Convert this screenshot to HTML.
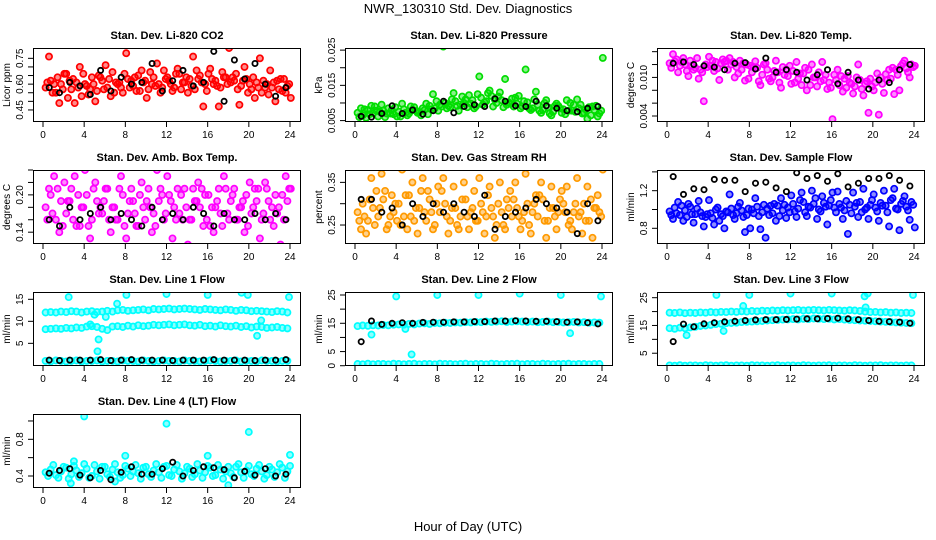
<!DOCTYPE html>
<html><head><meta charset="utf-8"><style>
body{margin:0;background:#fff;width:936px;height:540px;overflow:hidden}
svg{display:block;font-family:"Liberation Sans",sans-serif}
</style></head><body>
<svg id="chart" width="936" height="540">
<text x="468" y="13" text-anchor="middle" font-size="13">NWR_130310  Std. Dev. Diagnostics</text>
<text x="468" y="531" text-anchor="middle" font-size="13">Hour of Day (UTC)</text>
</svg>
<script>
const halfHours=[];for(let i=0;i<48;i++)halfHours.push(i*0.5+0.25);
const hourly=[];for(let i=0;i<24;i++)hourly.push(i+0.6);
const xTicks=[0,4,8,12,16,20,24];

const co2A=[0.58,0.62,0.55,0.60,0.66,0.57,0.61,0.53,0.59,0.64,0.56,0.62,0.58,0.67,0.60,0.55,0.63,0.59,0.65,0.61,0.57,0.64,0.60,0.68,0.62,0.58,0.66,0.61,0.63,0.57,0.65,0.60,0.69,0.62,0.58,0.64,0.61,0.66,0.59,0.63,0.57,0.61,0.55,0.60,0.58,0.62,0.56,0.59];
const co2B=[0.61,0.55,0.64,0.57,0.52,0.63,0.58,0.66,0.54,0.60,0.65,0.57,0.63,0.55,0.61,0.66,0.58,0.64,0.56,0.62,0.67,0.59,0.55,0.63,0.60,0.66,0.57,0.64,0.59,0.68,0.61,0.56,0.63,0.59,0.67,0.60,0.64,0.57,0.62,0.55,0.64,0.58,0.62,0.54,0.61,0.57,0.63,0.60];
const co2C=[0.76,0.60,0.49,0.66,0.62,0.49,0.70,0.60,0.57,0.50,0.64,0.71,0.53,0.61,0.58,0.78,0.62,0.56,0.68,0.52,0.60,0.72,0.58,0.64,0.56,0.69,0.61,0.55,0.76,0.63,0.47,0.66,0.60,0.47,0.64,0.81,0.62,0.48,0.70,0.60,0.52,0.75,0.58,0.68,0.50,0.63,0.55,0.52];
const co2K=[0.58,0.55,0.61,0.59,0.54,0.68,0.56,0.64,0.60,0.61,0.72,0.56,0.62,0.68,0.59,0.61,0.79,0.50,0.74,0.63,0.72,0.60,0.53,0.58];

const prA=[.0072,.0065,.0080,.0070,.0062,.0078,.0085,.0068,.0075,.0082,.0070,.0088,.0074,.0080,.0092,.0085,.0095,.0100,.0088,.0105,.0096,.0110,.0098,.0090,.0115,.0105,.0120,.0100,.0108,.0095,.0112,.0098,.0090,.0102,.0085,.0095,.0080,.0088,.0075,.0092,.0082,.0078,.0095,.0085,.0072,.0088,.0080,.0070];
const prB=[.0060,.0082,.0068,.0090,.0075,.0060,.0070,.0088,.0062,.0072,.0090,.0078,.0065,.0098,.0082,.0105,.0090,.0085,.0110,.0092,.0118,.0088,.0108,.0125,.0095,.0128,.0090,.0118,.0088,.0102,.0090,.0120,.0105,.0085,.0110,.0078,.0100,.0070,.0092,.0085,.0068,.0100,.0075,.0095,.0082,.0065,.0092,.0078];
const prC=[.0085,.0058,.0092,.0078,.0095,.0070,.0080,.0062,.0098,.0065,.0080,.0072,.0085,.0068,.0125,.0078,.0260,.0092,.0128,.0078,.0100,.0122,.0085,.0175,.0102,.0135,.0110,.0130,.0168,.0098,.0115,.0085,.0195,.0080,.0132,.0072,.0108,.0065,.0098,.0072,.0108,.0078,.0110,.0070,.0055,.0090,.0062,.0228];
const prK=[.0062,.0060,.0070,.0092,.0070,.0080,.0068,.0078,.0105,.0072,.0090,.0095,.0090,.0112,.0105,.0092,.0090,.0105,.0092,.0085,.0078,.0075,.0085,.0090];

const tpA=[.0122,.0125,.0118,.0120,.0126,.0115,.0112,.0120,.0118,.0124,.0122,.0126,.0120,.0116,.0112,.0120,.0108,.0115,.0104,.0112,.0100,.0108,.0116,.0102,.0110,.0098,.0106,.0112,.0100,.0108,.0096,.0092,.0104,.0088,.0098,.0092,.0086,.0096,.0090,.0098,.0092,.0100,.0105,.0098,.0112,.0118,.0114,.0120];
const tpB=[.0115,.0128,.0124,.0110,.0118,.0130,.0108,.0116,.0126,.0114,.0128,.0112,.0124,.0106,.0122,.0098,.0116,.0094,.0120,.0098,.0110,.0092,.0104,.0118,.0092,.0106,.0115,.0088,.0100,.0094,.0104,.0084,.0096,.0102,.0084,.0090,.0100,.0082,.0094,.0086,.0106,.0090,.0096,.0115,.0104,.0122,.0108,.0116];
const tpC=[.0136,.0108,.0130,.0102,.0112,.0098,.0063,.0132,.0110,.0096,.0124,.0130,.0100,.0126,.0095,.0118,.0125,.0088,.0122,.0094,.0126,.0084,.0112,.0090,.0124,.0088,.0080,.0120,.0086,.0124,.0082,.0035,.0112,.0078,.0102,.0075,.0120,.0072,.0045,.0080,.0042,.0076,.0112,.0074,.0080,.0126,.0100,.0118];
const tpK=[.0122,.0124,.0120,.0118,.0116,.0112,.0122,.0123,.0113,.0130,.0108,.0112,.0108,.0096,.0104,.0112,.0090,.0108,.0096,.0082,.0096,.0092,.0112,.0120];

const abA=[.18,.20,.16,.19,.17,.21,.15,.18,.20,.16,.19,.17,.21,.18,.16,.20,.17,.19,.15,.18,.21,.17,.19,.16,.20,.18,.17,.21,.16,.19,.18,.20,.15,.18,.17,.21,.19,.16,.18,.20,.17,.19,.16,.21,.18,.17,.20,.19];
const abB=[.16,.17,.21,.15,.19,.16,.20,.18,.15,.21,.17,.19,.16,.18,.21,.15,.19,.17,.20,.16,.18,.15,.21,.17,.19,.16,.20,.18,.16,.19,.21,.16,.18,.19,.15,.17,.20,.16,.19,.15,.18,.21,.17,.19,.15,.18,.16,.21];
const abC=[.21,.23,.14,.22,.19,.23,.15,.24,.13,.22,.18,.21,.14,.16,.23,.13,.21,.15,.22,.19,.14,.24,.20,.23,.13,.21,.16,.12,.21,.22,.15,.20,.14,.21,.23,.16,.21,.18,.14,.22,.21,.13,.22,.16,.20,.12,.23,.21];
const abK=[.16,.15,.18,.16,.17,.18,.16,.17,.16,.15,.18,.16,.17,.16,.18,.17,.15,.17,.16,.16,.17,.16,.17,.16];

const rhA=[.28,.30,.26,.29,.27,.31,.25,.28,.30,.27,.32,.26,.29,.28,.31,.25,.28,.30,.26,.29,.27,.31,.28,.26,.30,.27,.29,.25,.28,.31,.27,.29,.26,.30,.28,.27,.31,.26,.29,.28,.30,.25,.28,.27,.30,.26,.29,.28];
const rhB=[.26,.27,.31,.25,.29,.33,.27,.30,.25,.32,.27,.29,.33,.26,.28,.30,.33,.27,.29,.25,.31,.27,.29,.26,.28,.32,.27,.30,.25,.29,.31,.27,.28,.25,.30,.32,.26,.29,.27,.31,.28,.26,.30,.28,.26,.31,.29,.27];
const rhC=[.24,.23,.36,.33,.37,.24,.32,.26,.38,.24,.35,.23,.36,.33,.24,.34,.36,.23,.34,.24,.35,.24,.33,.36,.23,.34,.22,.35,.24,.33,.35,.24,.37,.23,.32,.35,.22,.34,.24,.33,.34,.24,.36,.23,.34,.22,.32,.38];
const rhK=[.31,.31,.28,.29,.25,.30,.27,.30,.28,.30,.28,.27,.32,.24,.27,.28,.29,.31,.30,.29,.28,.23,.30,.26];

const sfA=[.98,1.02,.94,.99,1.03,.95,.97,.92,.96,1.00,.95,.98,1.01,.96,.99,.94,1.00,1.03,.97,1.01,.96,1.04,.99,1.02,1.06,1.01,1.08,1.03,1.06,1.00,1.07,1.04,1.02,1.06,.99,1.05,1.03,1.08,1.00,1.05,1.02,1.07,1.04,1.10,1.01,1.06,1.03,1.08];
const sfB=[.94,.96,1.04,.92,.95,1.01,.93,.95,.91,1.02,.93,.97,.94,1.03,.92,1.01,.96,.93,1.05,.94,1.06,.93,1.05,.97,.98,1.10,.97,1.02,1.12,.98,1.03,1.10,.97,1.02,1.09,.96,1.07,.97,1.02,1.10,.98,1.04,.97,1.12,1.00,1.09,.99,1.05];
const sfC=[.90,1.08,.88,1.06,.86,1.09,.82,1.10,.84,.88,.80,1.16,.90,1.07,.76,.80,1.12,.79,.70,1.04,.88,1.12,.91,1.15,.92,1.18,.93,1.20,.90,1.14,.84,1.18,1.19,.90,.74,1.18,.92,1.22,.90,1.16,.88,1.20,.82,1.22,.78,1.14,.89,.81];
const sfK=[1.35,1.16,1.22,1.21,1.32,1.31,1.31,1.19,1.28,1.29,1.23,1.19,1.39,1.33,1.36,1.30,1.38,1.24,1.28,1.33,1.33,1.36,1.31,1.25];

const l1Up=[12.0,12.1,12.0,12.2,12.1,12.3,12.2,12.0,12.2,12.3,12.1,12.2,12.4,12.2,12.5,12.6,12.4,12.5,12.6,12.7,12.5,12.8,12.7,12.8,12.9,12.7,12.8,12.9,12.8,12.7,12.6,12.8,12.7,12.6,12.5,12.7,12.6,12.4,12.6,12.5,12.3,12.4,12.3,12.2,12.1,12.3,12.2,12.0];
const l1Mid=[8.2,8.3,8.4,8.3,8.5,8.4,8.6,8.5,8.8,8.9,8.7,8.3,8.0,8.8,8.9,8.7,9.0,8.8,9.1,8.9,9.0,9.2,9.1,9.2,9.3,9.1,9.2,9.3,9.1,9.0,9.2,8.9,9.0,8.8,9.1,8.9,8.8,9.0,8.7,8.9,8.6,8.8,8.7,8.5,8.6,8.7,8.5,8.4];
const l1Low=[1.0,0.9,1.1,1.0,0.9,1.0,1.1,0.9,1.0,1.0,1.1,0.9,1.0,1.0,0.9,1.1,1.0,1.0,0.9,1.1,1.0,0.9,1.0,1.1,1.0,1.0,0.9,1.1,1.0,1.0,0.9,1.0,1.1,1.0,0.9,1.0,1.0,1.1,0.9,1.0,1.0,0.9,1.1,1.0,1.0,0.9,1.0,1.0];
const l1K=[1.2,1.1,1.2,1.2,1.2,1.3,1.1,1.2,1.3,1.2,1.2,1.2,1.1,1.2,1.2,1.2,1.3,1.2,1.2,1.2,1.1,1.2,1.2,1.3];
const l1OutH=[2.5,5.4,5.3,7.2,8.1,12.0,16.0,19.3,19.9,20.8,21.2,23.9,5.0,6.1,4.6];
const l1OutV=[15.5,5.9,3.2,14.0,16.0,16.2,16.0,16.5,16.0,6.7,10.2,15.5,11.5,11.0,9.3];

const l2Main=[14.0,14.2,14.1,14.3,14.2,14.4,14.3,14.5,14.6,14.5,14.8,14.6,14.9,15.0,14.8,15.1,15.0,15.2,15.1,15.3,15.2,15.4,15.3,15.5,15.4,15.6,15.5,15.6,15.7,15.5,15.6,15.7,15.6,15.5,15.6,15.4,15.5,15.6,15.4,15.5,15.3,15.4,15.5,15.3,15.4,15.2,15.3,15.2];
const l2Low=[0.6,0.5,0.7,0.5,0.6,0.6,0.5,0.7,0.6,0.5,0.6,0.7,0.5,0.6,0.6,0.5,0.7,0.6,0.6,0.5,0.6,0.7,0.5,0.6,0.6,0.5,0.7,0.6,0.5,0.6,0.6,0.7,0.5,0.6,0.6,0.5,0.7,0.6,0.5,0.6,0.6,0.7,0.5,0.6,0.6,0.5,0.6,0.6];
const l2K=[8.5,15.8,14.6,15.0,15.2,15.0,15.3,15.4,15.4,15.5,15.5,15.6,15.6,15.8,15.8,15.9,15.8,15.7,15.7,15.6,15.4,15.5,15.2,14.8];
const l2OutH=[1.6,4.0,4.9,5.5,8.0,12.0,16.0,20.0,20.9,23.9];
const l2OutV=[11.0,24.5,13.0,4.0,25.0,25.0,25.5,25.0,11.5,24.5];

const l3Up=[19.6,19.5,19.7,19.4,19.6,19.5,19.7,19.6,19.8,19.7,19.9,19.8,20.0,19.9,20.1,20.0,20.2,20.1,20.3,20.2,20.4,20.3,20.5,20.4,20.5,20.6,20.4,20.5,20.6,20.5,20.4,20.6,20.5,20.4,20.3,20.5,20.4,20.2,20.0,19.8,19.9,19.7,19.8,19.6,19.7,19.5,19.6,19.5];
const l3Mid=[14.0,13.8,14.2,14.0,14.3,14.5,14.8,15.0,15.2,15.5,15.6,15.8,15.9,16.0,16.2,16.3,16.4,16.5,16.6,16.8,16.9,17.0,17.1,17.2,17.3,17.2,17.4,17.3,17.5,17.4,17.3,17.4,17.2,17.3,17.1,17.0,16.9,16.8,16.7,16.6,16.5,16.4,16.3,16.2,16.1,16.0,15.9,15.8];
const l3Low=[0.6,0.5,0.7,0.5,0.6,0.6,0.5,0.7,0.6,0.5,0.6,0.7,0.5,0.6,0.6,0.5,0.7,0.6,0.6,0.5,0.6,0.7,0.5,0.6,0.6,0.5,0.7,0.6,0.5,0.6,0.6,0.7,0.5,0.6,0.6,0.5,0.7,0.6,0.5,0.6,0.6,0.7,0.5,0.6,0.6,0.5,0.6,0.6];
const l3K=[9.2,15.5,14.5,15.6,16.0,16.3,16.5,16.8,17.0,17.1,17.1,17.2,17.3,17.4,17.4,17.5,17.6,17.4,17.1,16.8,16.5,16.4,16.2,15.8];
const l3OutH=[4.8,8.0,12.0,16.0,19.2,19.5,23.9,1.9,5.5,7.4,19.3];
const l3OutV=[26.0,26.0,26.5,26.5,25.5,26.5,26.0,11.5,13.0,22.0,21.5];

const l4A=[.44,.47,.41,.45,.49,.42,.46,.43,.48,.40,.45,.50,.42,.47,.44,.41,.48,.45,.43,.49,.42,.46,.44,.50,.41,.47,.45,.43,.48,.42,.46,.44,.49,.41,.47,.45,.43,.50,.44,.46,.42,.48,.45,.41,.47,.44,.49,.45];
const l4B=[.40,.52,.38,.50,.37,.51,.39,.53,.38,.52,.37,.50,.39,.53,.38,.51,.40,.52,.37,.50,.39,.53,.38,.51,.40,.52,.37,.50,.39,.53,.38,.51,.40,.52,.37,.50,.39,.53,.38,.51,.40,.52,.37,.50,.39,.53,.38,.51];
const l4K=[.43,.46,.48,.41,.38,.46,.36,.44,.50,.42,.42,.48,.55,.40,.46,.50,.49,.47,.38,.45,.41,.48,.40,.42];
const l4OutH=[4.0,12.0,20.0,8.0,16.0,24.0,2.7,18.0,3.0,7.0];
const l4OutV=[1.05,0.97,0.88,0.62,0.62,0.63,0.32,0.30,0.56,0.34];

const RED="#ff0000",GRN="#00dd00",MAG="#ff00ff",ORG="#ff9a00",BLU="#0000ff",CYN="#00ffff",BLK="#000000";
const panels=[
 {name:"co2",title:"Stan. Dev. Li-820 CO2",ylab:"Licor ppm",col:0,row:0,ylim:[0.38,0.81],ticks:[0.45,0.5,0.55,0.6,0.65,0.7,0.75],labels:[[0.45,"0.45"],[0.6,"0.60"],[0.75,"0.75"]],
  series:[[halfHours,co2A,RED,0],[halfHours,co2B,RED,0.17],[halfHours,co2C,RED,0.33],[hourly,co2K,BLK,0]]},
 {name:"pressure",title:"Stan. Dev. Li-820 Pressure",ylab:"kPa",col:1,row:0,ylim:[0.0046,0.0256],ticks:[0.005,0.01,0.015,0.02,0.025],labels:[[0.005,"0.005"],[0.015,"0.015"],[0.025,"0.025"]],
  series:[[halfHours,prA,GRN,0],[halfHours,prB,GRN,0.17],[halfHours,prC,GRN,0.33],[hourly,prK,BLK,0]]},
 {name:"li820-temp",title:"Stan. Dev. Li-820 Temp.",ylab:"degrees C",col:2,row:0,ylim:[0.00307,0.01457],ticks:[0.004,0.006,0.008,0.010,0.012,0.014],labels:[[0.004,"0.004"],[0.010,"0.010"]],
  series:[[halfHours,tpA,MAG,0],[halfHours,tpB,MAG,0.17],[halfHours,tpC,MAG,0.33],[hourly,tpK,BLK,0]]},
 {name:"amb-box-temp",title:"Stan. Dev. Amb. Box Temp.",ylab:"degrees C",col:0,row:1,ylim:[0.121,0.240],ticks:[0.14,0.16,0.18,0.20,0.22,0.24],labels:[[0.14,"0.14"],[0.20,"0.20"]],
  series:[[halfHours,abA,MAG,0],[halfHours,abB,MAG,0.17],[halfHours,abC,MAG,0.33],[hourly,abK,BLK,0]]},
 {name:"gas-stream-rh",title:"Stan. Dev. Gas Stream RH",ylab:"percent",col:1,row:1,ylim:[0.2055,0.379],ticks:[0.25,0.30,0.35],labels:[[0.25,"0.25"],[0.35,"0.35"]],
  series:[[halfHours,rhA,ORG,0],[halfHours,rhB,ORG,0.17],[halfHours,rhC,ORG,0.33],[hourly,rhK,BLK,0]]},
 {name:"sample-flow",title:"Stan. Dev. Sample Flow",ylab:"ml/min",col:2,row:1,ylim:[0.633,1.42],ticks:[0.8,1.0,1.2,1.4],labels:[[0.8,"0.8"],[1.2,"1.2"]],
  series:[[halfHours,sfA,BLU,0],[halfHours,sfB,BLU,0.17],[halfHours,sfC,BLU,0.33],[hourly,sfK,BLK,0]]},
 {name:"line1-flow",title:"Stan. Dev. Line 1 Flow",ylab:"ml/min",col:0,row:2,ylim:[-0.15,16.66],ticks:[5,10,15],labels:[[5,"5"],[10,"10"],[15,"15"]],
  series:[[halfHours,l1Up,CYN,0],[halfHours,l1Mid,CYN,0],[halfHours,l1Low,CYN,0],[l1OutH,l1OutV,CYN,0],[hourly,l1K,BLK,0]]},
 {name:"line2-flow",title:"Stan. Dev. Line 2 Flow",ylab:"ml/min",col:1,row:2,ylim:[-0.1,26.06],ticks:[0,5,10,15,20,25],labels:[[0,"0"],[5,"5"],[15,"15"],[25,"25"]],
  series:[[halfHours,l2Main,CYN,0],[halfHours,l2Low,CYN,0],[l2OutH,l2OutV,CYN,0],[hourly,l2K,BLK,0]]},
 {name:"line3-flow",title:"Stan. Dev. Line 3 Flow",ylab:"ml/min",col:2,row:2,ylim:[0.4,27.05],ticks:[5,10,15,20,25],labels:[[5,"5"],[15,"15"],[25,"25"]],
  series:[[halfHours,l3Up,CYN,0],[halfHours,l3Mid,CYN,0],[halfHours,l3Low,CYN,0],[l3OutH,l3OutV,CYN,0],[hourly,l3K,BLK,0]]},
 {name:"line4-flow",title:"Stan. Dev. Line 4 (LT) Flow",ylab:"ml/min",col:0,row:3,ylim:[0.269,1.076],ticks:[0.4,0.6,0.8,1.0],labels:[[0.4,"0.4"],[0.8,"0.8"]],
  series:[[halfHours,l4A,CYN,0],[halfHours,l4B,CYN,0.25],[l4OutH,l4OutV,CYN,0],[hourly,l4K,BLK,0]]}
];

const NS="http://www.w3.org/2000/svg";
const svg=document.getElementById("chart");
function mk(tag,attrs,parent){const e=document.createElementNS(NS,tag);for(const k in attrs)e.setAttribute(k,attrs[k]);(parent||svg).appendChild(e);return e;}

panels.forEach(p=>{
  const L=33+p.col*312, R=L+268, T=48+p.row*122, B=T+74;
  const x0=L+10, x1=R-11;
  const xs=h=>x0+(h/24)*(x1-x0);
  const ys=v=>B-(v-p.ylim[0])/(p.ylim[1]-p.ylim[0])*(B-T);
  const g=mk("g",{});
  
  
  const t=mk("text",{x:(L+R)/2,y:T-9,"text-anchor":"middle","font-size":"11","font-weight":"bold"},g);
  t.textContent=p.title;
  
  
  const cl=mk("clipPath",{id:"c"+p.name},g);mk("rect",{x:L,y:T,width:R-L,height:B-T},cl);
  const pts=mk("g",{"clip-path":"url(#c"+p.name+")"},g);
  
  
  p.series.forEach(s=>{
    const hs=s[0],vs=s[1],c=s[2],off=s[3];
    const isK=c===BLK;
    for(let i=0;i<vs.length;i++){
      const ci=mk("circle",{cx:xs(hs[i]+off).toFixed(1),cy:ys(vs[i]).toFixed(1),r:isK?2.6:3.1,fill:isK?"none":c,"fill-opacity":isK?0:0.45,stroke:c,"stroke-width":isK?1.8:1.7},pts);
      
      
    }
  });
  const box=mk("rect",{x:L+0.5,y:T+0.5,width:R-L-1,height:B-T-1,fill:"none",stroke:"#000","stroke-width":1},g);
  
  
  xTicks.forEach(h=>{
    mk("line",{x1:xs(h),x2:xs(h),y1:B,y2:B+5,stroke:"#000"},g);
    const lt=mk("text",{x:xs(h),y:B+16,"text-anchor":"middle","font-size":"10"},g);
    lt.textContent=h;
    
    
  });
  p.ticks.forEach(v=>{mk("line",{x1:L-5,x2:L,y1:ys(v),y2:ys(v),stroke:"#000"},g);});
  p.labels.forEach(l=>{
    const y=ys(l[0]);
    const lt=mk("text",{x:L-10,y:y,"text-anchor":"middle","font-size":"10",transform:"rotate(-90 "+(L-10)+" "+y+")"},g);
    lt.textContent=l[1];
    
    
  });
  const yl=mk("text",{x:L-23,y:(T+B)/2,"text-anchor":"middle","font-size":"10",transform:"rotate(-90 "+(L-23)+" "+((T+B)/2)+")"},g);
  yl.textContent=p.ylab;
  
  
});
</script>
</body></html>
